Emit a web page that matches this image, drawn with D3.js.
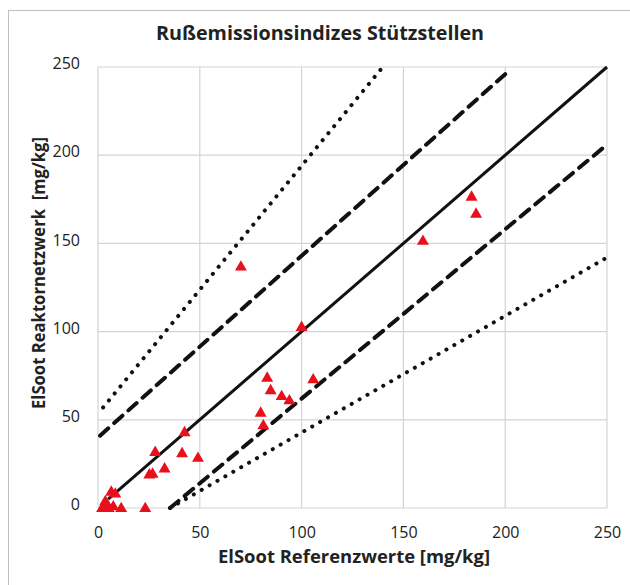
<!DOCTYPE html>
<html>
<head>
<meta charset="utf-8">
<script src="https://cdn.jsdelivr.net/npm/d3@7"></script>
<style>
  body { margin: 0; background: #fff; }
  svg text { font-family: "Open Sans", "Noto Sans", sans-serif; fill: #222; }
</style>
</head>
<body>
<div class="canvas"></div>
<script>
const svgWidth = 630;
const svgHeight = 585;
const margins = { top: 67, bottom: 77, left: 98, right: 23 };
const graphWidth = svgWidth - margins.left - margins.right;
const graphHeight = svgHeight - margins.top - margins.bottom;

// reference values (x) and reactor network values (y), mg/kg
const refValues = [70.2, 100, 105.7, 159.6, 183.5, 185.7, 83.1, 84.8, 90.2, 94, 79.9, 81.2,
    42.5, 28.1, 41.3, 32.7, 25.2, 26.8, 49.1, 6.5, 8.5, 3.6, 2.8, 5.3, 11.4, 23.2, 2, 4.2, 7.5];
const netValues = [137.4, 103.2, 73.5, 152, 177, 167.4, 74.4, 67.3, 64, 61.6, 54.6, 47.4,
    43.5, 32.3, 31.6, 23, 19.6, 20, 29, 9.8, 8.7, 4.5, 1.7, 0.5, 0.5, 0.5, 0.5, 2.5, 1.5];

// guide lines, [x1, y1, x2, y2]
const solidLine = [5, 5, 250, 250];
const dashedLines = [[1, 41, 201, 247], [35.4, 0, 250, 206]];
const dottedLines = [[2.5, 57, 139.5, 249.5], [35.4, 0, 250, 142]];

const ticks = [0, 50, 100, 150, 200, 250];

const svg = d3.select('.canvas')
    .append('svg')
        .attr('width', svgWidth)
        .attr('height', svgHeight);

// outer chart frame
svg.append('rect')
    .attr('x', 8.5).attr('y', 10.5)
    .attr('width', 640).attr('height', 600)
    .attr('fill', 'none')
    .attr('stroke', '#bfbfbf');

svg.append('text')
    .attr('x', 320).attr('y', 40)
    .attr('text-anchor', 'middle')
    .attr('font-size', 19.5)
    .attr('font-weight', 'bold')
    .attr('textLength', 328)
    .attr('lengthAdjust', 'spacingAndGlyphs')
    .text('Rußemissionsindizes Stützstellen');

const graph = svg.append('g')
    .attr('transform', `translate(${margins.left},${margins.top})`);

const x = d3.scaleLinear().domain([0, 250]).range([0, graphWidth]);
const y = d3.scaleLinear().domain([0, 250]).range([graphHeight, 0]);

// gridlines
graph.append('g')
    .selectAll('line.v')
    .data(ticks)
    .enter().append('line')
        .attr('x1', d => x(d)).attr('x2', d => x(d))
        .attr('y1', 0).attr('y2', graphHeight)
        .attr('stroke', '#d4d4d4').attr('stroke-width', 1.2);
graph.append('g')
    .selectAll('line.h')
    .data(ticks)
    .enter().append('line')
        .attr('x1', 0).attr('x2', graphWidth)
        .attr('y1', d => y(d)).attr('y2', d => y(d))
        .attr('stroke', '#d4d4d4').attr('stroke-width', 1.2);

// axes, text only
const xAxis = d3.axisBottom(x).tickValues(ticks).tickSize(0).tickPadding(16);
const yAxis = d3.axisLeft(y).tickValues(ticks).tickSize(0).tickPadding(18);

const xAxisGroup = graph.append('g')
    .attr('transform', `translate(0,${graphHeight})`)
    .call(xAxis);
const yAxisGroup = graph.append('g').call(yAxis);

[xAxisGroup, yAxisGroup].forEach(g => {
    g.select('.domain').remove();
    g.selectAll('text')
        .attr('font-size', 16)
        .attr('font-family', '"Open Sans", sans-serif')
        .attr('fill', '#222');
});
xAxisGroup.selectAll('text').attr('dy', '0.85em');
yAxisGroup.selectAll('text').attr('dy', '0.1em');

const line = d3.line()
    .x(d => x(d[0]))
    .y(d => y(d[1]));

const seg = s => [[s[0], s[1]], [s[2], s[3]]];

graph.append('path')
    .datum(seg(solidLine))
    .attr('d', line)
    .attr('stroke', '#111').attr('stroke-width', 3)
    .attr('fill', 'none');

graph.selectAll('path.dashed')
    .data(dashedLines.map(seg))
    .enter().append('path')
        .attr('d', line)
        .attr('stroke', '#111').attr('stroke-width', 4)
        .attr('stroke-dasharray', '11 8')
        .attr('stroke-linecap', 'round')
        .attr('fill', 'none');

graph.selectAll('path.dotted')
    .data(dottedLines.map(seg))
    .enter().append('path')
        .attr('d', line)
        .attr('stroke', '#111').attr('stroke-width', 4)
        .attr('stroke-dasharray', '0.1 9')
        .attr('stroke-linecap', 'round')
        .attr('fill', 'none');

// points
const points = refValues.map((v, i) => ({ ref: v, net: netValues[i] }));
const tri = d3.symbol().type(d3.symbolTriangle).size(62);

graph.selectAll('path.pt')
    .data(points)
    .enter().append('path')
        .attr('d', tri)
        .attr('transform', d => `translate(${x(d.ref)},${y(d.net) + 1.5})`)
        .attr('fill', '#e8101c');

// axis titles
svg.append('text')
    .attr('x', 354).attr('y', 563)
    .attr('text-anchor', 'middle')
    .attr('font-size', 18)
    .attr('font-weight', 'bold')
    .attr('textLength', 272)
    .attr('lengthAdjust', 'spacingAndGlyphs')
    .text('ElSoot Referenzwerte [mg/kg]');

svg.append('text')
    .attr('transform', 'translate(45,273) rotate(-90)')
    .attr('text-anchor', 'middle')
    .attr('font-size', 18)
    .attr('font-weight', 'bold')
    .attr('textLength', 272)
    .attr('lengthAdjust', 'spacingAndGlyphs')
    .attr('xml:space', 'preserve')
    .text('ElSoot Reaktornetzwerk  [mg/kg]');
</script>
</body>
</html>
